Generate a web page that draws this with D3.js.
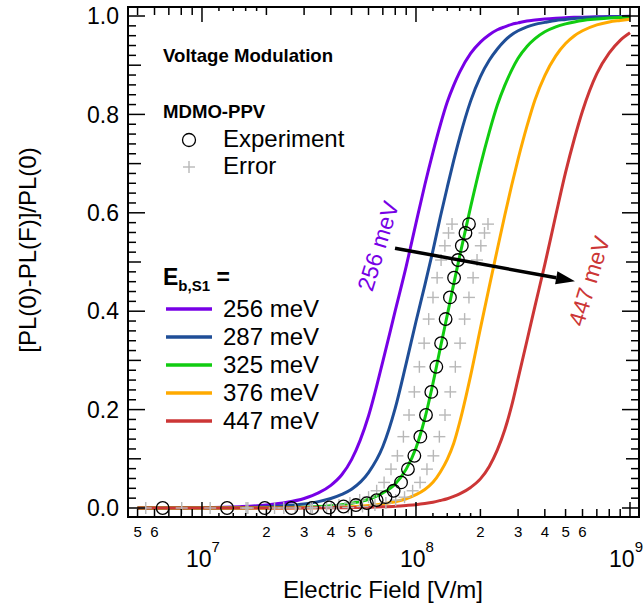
<!DOCTYPE html>
<html>
<head>
<meta charset="utf-8">
<script src="https://cdn.jsdelivr.net/npm/d3@7"></script>
<style>
  html, body { margin: 0; padding: 0; background: #fff; }
  svg { display: block; font-family: "Liberation Sans", Arial, sans-serif; }
</style>
</head>
<body>
<svg id="chart" width="644" height="610"></svg>
<script>
// Field grid (V/m) shared by the model curves
const fieldGrid = [5e6, 1e7, 1.5e7, 2e7, 2.5e7, 3e7, 3.5e7, 4e7, 4.5e7, 5e7, 6e7, 7e7, 8e7, 9e7,
  1e8, 1.1e8, 1.2e8, 1.3e8, 1.4e8, 1.5e8, 1.6e8, 1.8e8, 2e8, 2.2e8, 2.4e8, 2.6e8, 2.8e8, 3e8,
  3.3e8, 3.6e8, 4e8, 4.5e8, 5e8, 5.5e8, 6e8, 7e8, 8e8, 9e8, 1e9];

// Model PL quenching for each exciton binding energy
const seriesLabels = ["256 meV", "287 meV", "325 meV", "376 meV", "447 meV"];
const seriesColors = ["#7700e6", "#1f4e97", "#11cc11", "#ffaa00", "#cc3636"];
const quench256 = [0.0001, 0.0008, 0.0026, 0.006, 0.0115, 0.0194, 0.0306, 0.0461, 0.0675, 0.0983,
  0.187, 0.298, 0.401, 0.491, 0.579, 0.657, 0.723, 0.779, 0.825, 0.859, 0.886, 0.924, 0.947, 0.962,
  0.972, 0.978, 0.983, 0.986, 0.990, 0.992, 0.994, 0.9956, 0.9967, 0.9973, 0.9977, 0.9984, 0.999, 0.9992, 0.9993];
const quench287 = [0.0000, 0.0003, 0.0010, 0.0024, 0.0049, 0.0082, 0.0130, 0.0194, 0.0277, 0.0382,
  0.072, 0.125, 0.203, 0.294, 0.379, 0.453, 0.523, 0.592, 0.652, 0.706, 0.753, 0.827, 0.877, 0.910,
  0.933, 0.950, 0.962, 0.970, 0.978, 0.983, 0.987, 0.991, 0.993, 0.995, 0.996, 0.9973, 0.998, 0.9985, 0.999];
const quench325 = [0.0000, 0.0000, 0.0002, 0.0004, 0.0009, 0.0017, 0.0028, 0.0044, 0.0068, 0.0098,
  0.0177, 0.0306, 0.0488, 0.079, 0.122, 0.182, 0.253, 0.326, 0.392, 0.455, 0.512, 0.612, 0.696, 0.764,
  0.819, 0.859, 0.890, 0.914, 0.938, 0.954, 0.968, 0.978, 0.984, 0.988, 0.991, 0.994, 0.996, 0.997, 0.9975];
const quench376 = [0.0000, 0.0000, 0.0001, 0.0001, 0.0002, 0.0004, 0.0007, 0.0011, 0.0018, 0.0025,
  0.0049, 0.0081, 0.0126, 0.0188, 0.0272, 0.0377, 0.0522, 0.0733, 0.0988, 0.131, 0.174, 0.269, 0.365, 0.450,
  0.526, 0.595, 0.656, 0.709, 0.776, 0.830, 0.879, 0.919, 0.944, 0.960, 0.970, 0.982, 0.988, 0.991, 0.9934];
const quench447 = [0.0000, 0.0000, 0.0000, 0.0001, 0.0001, 0.0002, 0.0003, 0.0004, 0.0005, 0.0008,
  0.0013, 0.0023, 0.0035, 0.0051, 0.0068, 0.0091, 0.0118, 0.0153, 0.0189, 0.0235, 0.0288, 0.0418, 0.0592, 0.0845,
  0.118, 0.159, 0.208, 0.263, 0.340, 0.411, 0.495, 0.595, 0.682, 0.751, 0.807, 0.883, 0.925, 0.9506, 0.966];
const seriesValues = [quench256, quench287, quench325, quench376, quench447];

// Measured quenching (voltage modulation)
const expField = [6.55e6, 1.31e7, 1.965e7, 2.62e7, 3.275e7, 3.93e7, 4.585e7, 5.24e7, 5.895e7, 6.55e7,
  7.205e7, 7.86e7, 8.515e7, 9.17e7, 9.825e7, 1.048e8, 1.1135e8, 1.179e8, 1.2445e8, 1.31e8,
  1.3755e8, 1.441e8, 1.5065e8, 1.572e8, 1.6375e8, 1.703e8, 1.7685e8];
const expQuench = [0.000, 0.000, 0.000, 0.000, 0.000, 0.001, 0.003, 0.006, 0.010, 0.016,
  0.022, 0.035, 0.052, 0.079, 0.106, 0.145, 0.189, 0.236, 0.287, 0.335,
  0.384, 0.428, 0.468, 0.504, 0.533, 0.559, 0.577];
// Field uncertainty bounds for each measured point
const errFieldLow = [5.46e6, 1.092e7, 1.638e7, 2.183e7, 2.729e7, 3.275e7, 3.821e7, 4.367e7, 4.913e7, 5.458e7,
  6.004e7, 6.55e7, 7.096e7, 7.642e7, 8.188e7, 8.733e7, 9.279e7, 9.825e7, 1.0371e8, 1.0917e8,
  1.1463e8, 1.2008e8, 1.2554e8, 1.31e8, 1.3646e8, 1.4192e8, 1.4738e8];
const errFieldHigh = [8.04e6, 1.607e7, 2.411e7, 3.215e7, 4.018e7, 4.822e7, 5.626e7, 6.429e7, 7.233e7, 8.037e7,
  8.841e7, 9.644e7, 1.0448e8, 1.1252e8, 1.2055e8, 1.2859e8, 1.3663e8, 1.4466e8, 1.527e8, 1.6074e8,
  1.6877e8, 1.7681e8, 1.8485e8, 1.9288e8, 2.0092e8, 2.0896e8, 2.1699e8];

// Axis ticks
const xDecades = [1e7, 1e8, 1e9];
const xDecadeExp = ["7", "8", "9"];
const xLabeledMinor = [5e6, 6e6, 2e7, 3e7, 4e7, 5e7, 6e7, 2e8, 3e8, 4e8, 5e8, 6e8];
const xLabeledMinorText = ["5", "6", "2", "3", "4", "5", "6", "2", "3", "4", "5", "6"];
const xPlainMinor = [7e6, 8e6, 9e6, 7e7, 8e7, 9e7, 7e8, 8e8, 9e8];
const xSmallMinor = [1.2e7, 1.4e7, 1.6e7, 1.8e7, 1.2e8, 1.4e8, 1.6e8, 1.8e8];
const yMajor = [0, 0.2, 0.4, 0.6, 0.8, 1.0];
const yMajorText = ["0.0", "0.2", "0.4", "0.6", "0.8", "1.0"];
const yMid = [0.1, 0.3, 0.5, 0.7, 0.9];
const yFine = [0.02, 0.04, 0.06, 0.08, 0.12, 0.14, 0.16, 0.18, 0.22, 0.24, 0.26, 0.28,
  0.32, 0.34, 0.36, 0.38, 0.42, 0.44, 0.46, 0.48, 0.52, 0.54, 0.56, 0.58,
  0.62, 0.64, 0.66, 0.68, 0.72, 0.74, 0.76, 0.78, 0.82, 0.84, 0.86, 0.88,
  0.92, 0.94, 0.96, 0.98];

// Arrow from low to high binding energy
const arrowFrom = [7.98e7, 0.528];
const arrowTo = [5.53e8, 0.461];

(function draw() {
  const svg = d3.select("#chart");
  const pLeft = 128, pRight = 639, pTop = 7, pBottom = 517;
  const svgWidth = 644;

  const x = d3.scaleLog().domain([4.511e6, 1.1018e9]).range([pLeft, pRight]);
  const y = d3.scaleLinear().domain([-0.0183, 1.0183]).range([pBottom, pTop]);

  const font = '"Liberation Sans", Arial, sans-serif';

  // Model curves
  const line = d3.line()
    .x(d => x(d[0]))
    .y(d => y(d[1]))
    .curve(d3.curveMonotoneX);

  const curves = svg.append("g");
  seriesValues.forEach((vals, i) => {
    curves.append("path")
      .attr("d", line(fieldGrid.map((f, j) => [f, vals[j]])))
      .attr("fill", "none")
      .attr("stroke", seriesColors[i])
      .attr("stroke-width", 3)
      .attr("stroke-linejoin", "round");
  });

  // Error bounds as crosses
  const crossHalf = 6;
  function cross(g, cx, cy) {
    g.append("line").attr("x1", cx - crossHalf).attr("x2", cx + crossHalf).attr("y1", cy).attr("y2", cy);
    g.append("line").attr("x1", cx).attr("x2", cx).attr("y1", cy - crossHalf).attr("y2", cy + crossHalf);
  }
  const errG = svg.append("g").attr("stroke", "#b8b8b8").attr("stroke-width", 1.4);
  expQuench.forEach((v, i) => {
    cross(errG, x(errFieldLow[i]), y(v));
    cross(errG, x(errFieldHigh[i]), y(v));
  });

  // Measured points
  svg.append("g").selectAll("circle")
    .data(expField.map((f, i) => [f, expQuench[i]]))
    .join("circle")
    .attr("cx", d => x(d[0]))
    .attr("cy", d => y(d[1]))
    .attr("r", 6.3)
    .attr("fill", "none")
    .attr("stroke", "#000")
    .attr("stroke-width", 1.3);

  // Frame
  svg.append("rect")
    .attr("x", pLeft).attr("y", pTop)
    .attr("width", pRight - pLeft).attr("height", pBottom - pTop)
    .attr("fill", "none").attr("stroke", "#000").attr("stroke-width", 2);

  // Ticks (inward on all four sides)
  const tickG = svg.append("g").attr("stroke", "#000").attr("stroke-width", 1.5);
  function xTicks(vals, len) {
    vals.forEach(v => {
      const px = x(v);
      tickG.append("line").attr("x1", px).attr("x2", px).attr("y1", pBottom).attr("y2", pBottom - len);
      tickG.append("line").attr("x1", px).attr("x2", px).attr("y1", pTop).attr("y2", pTop + len);
    });
  }
  function yTicks(vals, len) {
    vals.forEach(v => {
      const py = y(v);
      tickG.append("line").attr("x1", pLeft).attr("x2", pLeft + len).attr("y1", py).attr("y2", py);
      tickG.append("line").attr("x1", pRight).attr("x2", pRight - len).attr("y1", py).attr("y2", py);
    });
  }
  xTicks(xDecades, 15);
  xTicks(xLabeledMinor, 8);
  xTicks(xPlainMinor, 8);
  xTicks(xSmallMinor, 4);
  yTicks(yMajor, 17);
  yTicks(yMid, 13);
  yTicks(yFine, 8);

  // Tick labels
  const labG = svg.append("g").attr("fill", "#000").style("font-family", font);
  yMajor.forEach((v, i) => {
    labG.append("text")
      .attr("x", 119).attr("y", y(v)).attr("dy", "0.36em")
      .attr("text-anchor", "end").attr("font-size", 23)
      .text(yMajorText[i]);
  });
  xLabeledMinor.forEach((v, i) => {
    labG.append("text")
      .attr("x", x(v)).attr("y", 537)
      .attr("text-anchor", "middle").attr("font-size", 15)
      .text(xLabeledMinorText[i]);
  });
  xDecades.forEach((v, i) => {
    const t = labG.append("text")
      .attr("x", x(v) + 1).attr("y", 567)
      .attr("text-anchor", "middle").attr("font-size", 23);
    t.append("tspan").text("10");
    t.append("tspan").attr("dy", -15).attr("font-size", 15).text(xDecadeExp[i]);
    // keep the last decade label inside the page
    const box = t.node().getBBox();
    const overflow = box.x + box.width - (svgWidth - 1);
    if (overflow > 0) t.attr("x", x(v) + 1 - overflow);
  });

  // Axis titles
  labG.append("text")
    .attr("x", 383).attr("y", 598)
    .attr("text-anchor", "middle").attr("font-size", 24)
    .text("Electric Field [V/m]");
  labG.append("text")
    .attr("transform", "translate(36,250) rotate(-90)")
    .attr("text-anchor", "middle").attr("font-size", 24)
    .text("[PL(0)-PL(F)]/PL(0)");

  // Legend block
  const leg = svg.append("g").style("font-family", font).attr("fill", "#000");
  leg.append("text").attr("x", 163).attr("y", 62).attr("font-size", 18.6).attr("font-weight", "bold")
    .text("Voltage Modulation");
  leg.append("text").attr("x", 163).attr("y", 118).attr("font-size", 18.6).attr("font-weight", "bold")
    .text("MDMO-PPV");
  leg.append("circle").attr("cx", 189).attr("cy", 140).attr("r", 6.5)
    .attr("fill", "none").attr("stroke", "#000").attr("stroke-width", 1.3);
  leg.append("text").attr("x", 223).attr("y", 147).attr("font-size", 24).text("Experiment");
  const legCross = leg.append("g").attr("stroke", "#b8b8b8").attr("stroke-width", 1.4);
  cross(legCross, 189, 167);
  leg.append("text").attr("x", 223).attr("y", 174).attr("font-size", 24).text("Error");

  const eb = leg.append("text").attr("x", 163).attr("y", 285).attr("font-weight", "bold").attr("font-size", 23);
  eb.append("tspan").text("E");
  eb.append("tspan").attr("dy", 6).attr("font-size", 15).text("b,S1");
  eb.append("tspan").attr("dy", -6).text(" =");

  const legendY = [309, 337, 365, 393, 421];
  seriesLabels.forEach((lab, i) => {
    leg.append("line")
      .attr("x1", 166).attr("x2", 212)
      .attr("y1", legendY[i]).attr("y2", legendY[i])
      .attr("stroke", seriesColors[i]).attr("stroke-width", 3.5);
    leg.append("text").attr("x", 223).attr("y", legendY[i] + 8).attr("font-size", 24).text(lab);
  });

  // Arrow and end labels
  const ax1 = x(arrowFrom[0]), ay1 = y(arrowFrom[1]);
  const ax2 = x(arrowTo[0]), ay2 = y(arrowTo[1]);
  const ang = Math.atan2(ay2 - ay1, ax2 - ax1);
  const headLen = 19, headHalf = 6.5;
  const bx = ax2 - headLen * Math.cos(ang), by = ay2 - headLen * Math.sin(ang);
  svg.append("line")
    .attr("x1", ax1).attr("y1", ay1).attr("x2", bx).attr("y2", by)
    .attr("stroke", "#000").attr("stroke-width", 3.5);
  svg.append("polygon")
    .attr("points", [
      [ax2, ay2],
      [bx + headHalf * Math.sin(ang), by - headHalf * Math.cos(ang)],
      [bx - headHalf * Math.sin(ang), by + headHalf * Math.cos(ang)]
    ].map(p => p.join(",")).join(" "))
    .attr("fill", "#000");

  svg.append("text")
    .attr("transform", "translate(378,246) rotate(-73)")
    .attr("text-anchor", "middle").attr("dy", "0.35em")
    .attr("font-size", 23).attr("fill", seriesColors[0]).style("font-family", font)
    .text(seriesLabels[0]);
  svg.append("text")
    .attr("transform", "translate(589,281) rotate(-73)")
    .attr("text-anchor", "middle").attr("dy", "0.35em")
    .attr("font-size", 23).attr("fill", seriesColors[4]).style("font-family", font)
    .text(seriesLabels[4]);
})();
</script>
</body>
</html>
